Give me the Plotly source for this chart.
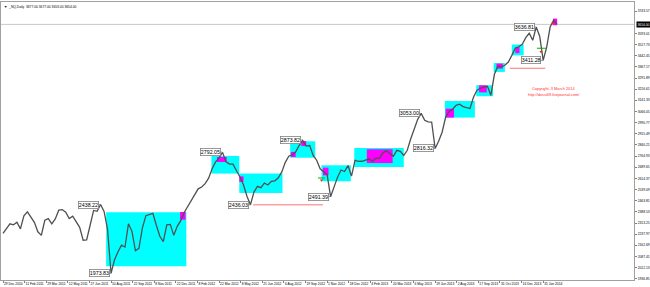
import plotly.graph_objects as go

# ---------------- data ----------------
bar_step = 5  # one sampled close every 5 daily bars, bar 0 = 29 Dec 2010
closes = [
    2244, 2278, 2308, 2301, 2318, 2274, 2362, 2389, 2349, 2318,
    2254, 2230, 2332, 2343, 2307, 2341, 2400, 2404, 2386, 2343,
    2359, 2318, 2284, 2197, 2200, 2298, 2398, 2392, 2438, 2392,
    2271, 1974, 2065, 2119, 2164, 2151, 2308, 2257, 2126, 2142,
    2280, 2363, 2368, 2378, 2298, 2224, 2187, 2301, 2304, 2230,
    2291, 2329, 2384, 2424, 2462, 2495, 2544, 2556, 2579, 2616,
    2679, 2726, 2753, 2790, 2726, 2711, 2711, 2666, 2624, 2571,
    2494, 2436, 2522, 2561, 2552, 2583, 2570, 2595, 2598, 2619,
    2658, 2723, 2764, 2774, 2794, 2838, 2870, 2832, 2836, 2770,
    2737, 2679, 2656, 2640, 2491, 2556, 2623, 2671, 2661, 2701,
    2630, 2737, 2729, 2730, 2737, 2745, 2731, 2751, 2750, 2787,
    2801, 2784, 2764, 2804, 2797, 2770, 2804, 2882, 2953, 3013,
    3053, 3007, 2996, 2995, 2816, 2865, 2926, 3027, 3067, 3081,
    3108, 3115, 3099, 3094, 3086, 3162, 3209, 3223, 3229, 3236,
    3175, 3317, 3371, 3368, 3378, 3400, 3445, 3493, 3503, 3520,
    3564, 3594, 3547, 3636, 3574, 3411, 3501, 3636, 3682, 3654,
]
bars = [bar_step * k for k in range(len(closes))]

date_ticks = [0, 31, 62, 93, 124, 155, 186, 217, 248, 279, 310, 341, 372,
              403, 434, 465, 496, 527, 558, 589, 620, 651, 682, 713, 744, 775]
date_labels = ["29 Dec 2010", "11 Feb 2011", "29 Mar 2011", "12 May 2011",
               "27 Jun 2011", "10 Aug 2011", "22 Sep 2011", "8 Nov 2011",
               "22 Dec 2011", "8 Feb 2012", "22 Mar 2012", "8 May 2012",
               "21 Jun 2012", "6 Aug 2012", "19 Sep 2012", "1 Nov 2012",
               "18 Dec 2012", "4 Feb 2013", "20 Mar 2013", "6 May 2013",
               "19 Jun 2013", "2 Aug 2013", "17 Sep 2013", "31 Oct 2013",
               "16 Dec 2013", "31 Jan 2014"]

price_ticks = [1936.85, 2012.13, 2087.41, 2162.69, 2237.97, 2313.25, 2388.53,
               2463.81, 2539.09, 2614.37, 2689.65, 2764.93, 2840.21, 2915.49,
               2990.77, 3066.05, 3141.33, 3216.61, 3291.89, 3367.17, 3442.45,
               3517.73, 3593.01, 3743.57]

# consolidation boxes (cyan)
cyan_start = [148, 299, 339, 412, 457, 504, 634, 679, 704, 730]
cyan_end = [263, 339, 401, 448, 499, 575, 677, 703, 720, 747]
cyan_top = [2386, 2766, 2647, 2865, 2703, 2820, 3137, 3243, 3393, 3518]
cyan_bottom = [2021, 2647, 2516, 2754, 2595, 2691, 3025, 3169, 3333, 3445]

# inner boxes (magenta)
mag_start = [254, 307, 339, 413, 428, 459, 522, 635, 683, 708, 735, 789]
mag_end = [262, 321, 345, 420, 435, 467, 559, 647, 694, 717, 741, 795]
mag_top = [2388, 2759, 2628, 2793, 2867, 2687, 2811, 3085, 3243, 3389, 3501, 3693]
mag_bottom = [2336, 2725, 2590, 2759, 2833, 2635, 2718, 3025, 3195, 3355, 3460, 3648]

# swing labels
label_bars = [140, 155, 315, 355, 430, 470, 600, 620, 765, 775]
label_values = [2438.22, 1973.83, 2792.05, 2436.03, 2873.82, 2491.39,
                3053.00, 2816.32, 3636.81, 3411.28]

# support levels (red lines)
level_values = [2436.03, 3358.0]
level_start = [359, 727]
level_end = [459, 778]

# small trade marks
green_values = [2617, 3493]
green_start = [452, 766]
green_end = [462, 779]
red_mark_bars = [457, 772, 789]
red_mark_values = [2602, 3470, 3660]

last_price = 3654.00
title_text = "▼  _NQ,Daily  3677.00 3677.00 3653.00 3654.00"
copyright_lines = ["Copyright, 3 March 2014", "http://dessi69.livejournal.com/"]

FONT = "Liberation Sans, Arial, sans-serif"

# ---------------- figure ----------------
fig = go.Figure()

for x0, x1, y1, y0 in zip(cyan_start, cyan_end, cyan_top, cyan_bottom):
    fig.add_shape(type="rect", x0=x0, x1=x1, y0=y0, y1=y1,
                  fillcolor="#00FFFF", line_width=0, layer="below")
for x0, x1, y1, y0 in zip(mag_start, mag_end, mag_top, mag_bottom):
    fig.add_shape(type="rect", x0=x0, x1=x1, y0=y0, y1=y1,
                  fillcolor="#FF00FF", line_width=0, layer="below")

# current price line
fig.add_shape(type="line", xref="paper", x0=0, x1=1, y0=last_price, y1=last_price,
              line=dict(color="#C8C8C8", width=1), layer="below")

for v, a, b in zip(level_values, level_start, level_end):
    fig.add_shape(type="line", x0=a, x1=b, y0=v, y1=v,
                  line=dict(color="#FF7070", width=1))
for v, a, b in zip(green_values, green_start, green_end):
    fig.add_shape(type="line", x0=a, x1=b, y0=v, y1=v,
                  line=dict(color="#00B000", width=1))

fig.add_trace(go.Scatter(x=bars, y=closes, mode="lines",
                         line=dict(color="#505050", width=1.3),
                         hoverinfo="skip", showlegend=False))
fig.add_trace(go.Scatter(x=red_mark_bars, y=red_mark_values, mode="markers",
                         marker=dict(symbol="triangle-down", size=3, color="#FF2020"),
                         hoverinfo="skip", showlegend=False))

for b, v in zip(label_bars, label_values):
    fig.add_annotation(x=b, y=v, text=f"{v:.2f}", showarrow=True, arrowhead=0,
                       arrowwidth=0.8, arrowcolor="#808080", ax=-12, ay=0,
                       font=dict(family=FONT, size=5.3, color="#000000"),
                       bgcolor="#FFFFFF", bordercolor="#808080", borderwidth=0.8,
                       borderpad=0)

# last price tag on right axis
fig.add_annotation(xref="paper", x=1, xanchor="left", xshift=2, y=last_price,
                   text=f"{last_price:.2f}", showarrow=False,
                   font=dict(family=FONT, size=3.3, color="#FFFFFF"),
                   bgcolor="#000000", borderpad=0.5)

fig.add_annotation(xref="paper", yref="paper", x=0.002, y=0.996,
                   xanchor="left", yanchor="top", text=title_text, showarrow=False,
                   font=dict(family=FONT, size=3.3, color="#000000"))

for i, t in enumerate(copyright_lines):
    fig.add_annotation(xref="paper", yref="paper", x=0.8736, y=0.69 - 0.022 * i,
                       xanchor="center", yanchor="middle", text=t, showarrow=False,
                       font=dict(family=FONT, size=3.9, color="#FF3030"))

fig.update_layout(
    width=650, height=287,
    margin=dict(l=1, r=16, t=2, b=7, autoexpand=False),
    paper_bgcolor="#FFFFFF", plot_bgcolor="#FFFFFF",
    showlegend=False,
    font=dict(family=FONT, color="#000000"),
)
fig.update_xaxes(range=[-2.87, 905.3], showgrid=False, zeroline=False,
                 tickvals=date_ticks, ticktext=date_labels, tickangle=0,
                 automargin=False,
                 ticklabelposition="outside right", ticks="outside", ticklen=2,
                 tickcolor="#808080", tickfont=dict(size=3.3, family=FONT),
                 showline=True, linecolor="#A0A0A0", linewidth=1, mirror=True)
fig.update_yaxes(range=[1928.6, 3805.1], side="right", showgrid=False, zeroline=False,
                 tickvals=price_ticks, ticktext=[f"{v:.2f}" for v in price_ticks],
                 automargin=False,
                 ticks="outside", ticklen=2, tickcolor="#808080",
                 tickfont=dict(size=3.3, family=FONT),
                 showline=True, linecolor="#A0A0A0", linewidth=1, mirror=True)

fig.write_html("out.html")
